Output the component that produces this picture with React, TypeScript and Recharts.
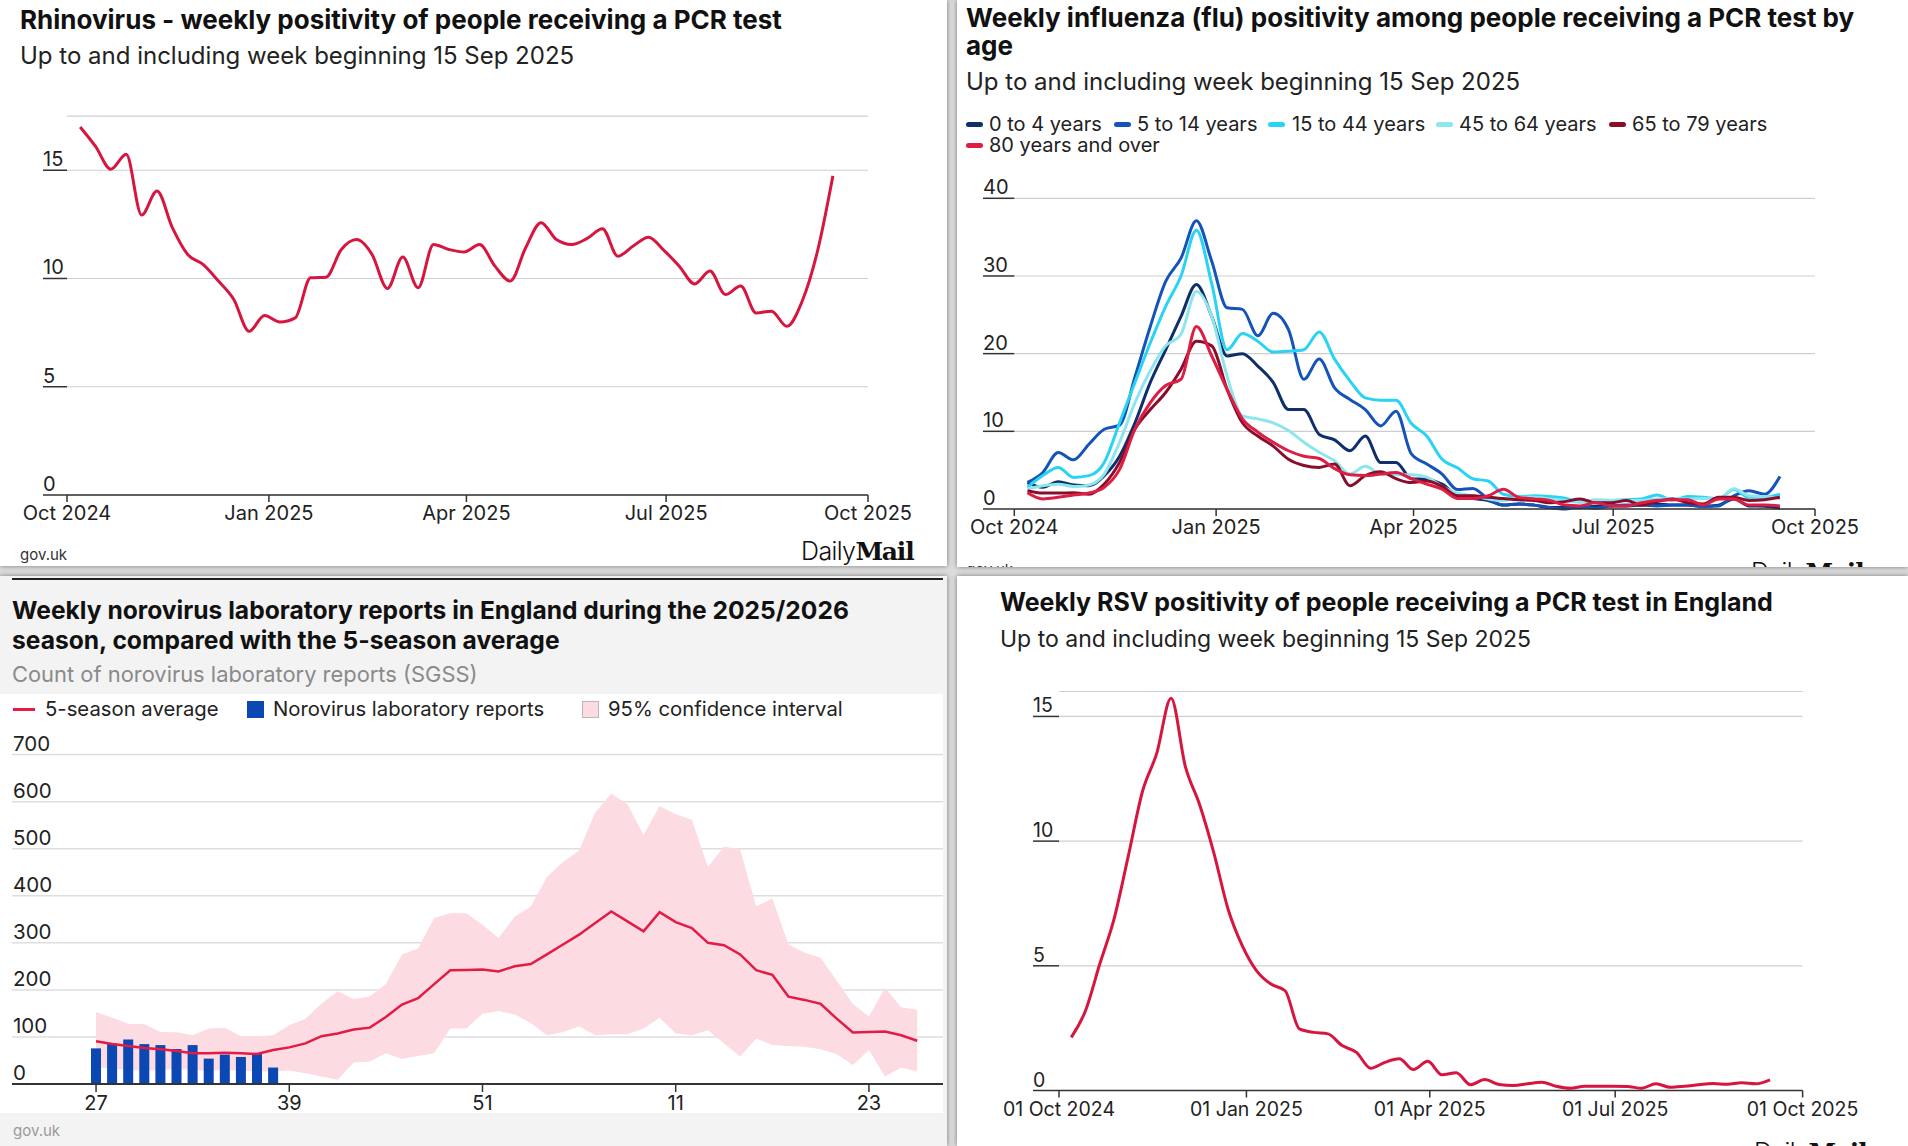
import React from 'react';
import { LineChart, Line, XAxis, YAxis, CartesianGrid, ComposedChart, Area, Bar } from 'recharts';

const FONT = 'Inter, "Noto Sans", sans-serif';

// ---------- categories ----------
const ORIGIN = Date.UTC(2024, 9, 1);
const FIRST_WEEK = Date.UTC(2024, 9, 7);
const DAY = 86400000;
const N_WEEKS = 50;
const WEEK_DAYS: number[] = Array.from({ length: N_WEEKS }, (_, k) => (FIRST_WEEK - ORIGIN) / DAY + 7 * k);

const MONTH_TICK_DATES = ['2024-10-01', '2025-01-01', '2025-04-01', '2025-07-01', '2025-10-01'];
const MONTH_TICK_DAYS = MONTH_TICK_DATES.map((d) => (Date.parse(d + 'T00:00:00Z') - ORIGIN) / DAY);
const MONTH_LABELS = ['Oct 2024', 'Jan 2025', 'Apr 2025', 'Jul 2025', 'Oct 2025'];
const RSV_LABELS = ['01 Oct 2024', '01 Jan 2025', '01 Apr 2025', '01 Jul 2025', '01 Oct 2025'];

// ---------- series ----------
const RHINO = [17.0, 16.1, 15.05, 15.74, 12.93, 14.04, 12.35, 11.11, 10.65, 9.88, 9.03, 7.56, 8.29, 7.99, 8.18, 10.03, 10.06, 11.34, 11.8, 11.11, 9.54, 10.99, 9.57, 11.57, 11.34, 11.22, 11.57, 10.57, 9.88, 11.42, 12.58, 11.8, 11.57, 11.85, 12.3, 11.03, 11.5, 11.91, 11.3, 10.57, 9.75, 10.34, 9.26, 9.65, 8.41, 8.49, 7.79, 8.95, 11.27, 14.74];

const RSV = [2.13, 3.2, 5.07, 6.87, 9.4, 12.0, 13.53, 15.73, 13.0, 11.47, 9.53, 7.27, 5.8, 4.8, 4.27, 4.0, 2.47, 2.33, 2.27, 1.8, 1.53, 0.89, 1.13, 1.27, 0.84, 1.17, 0.63, 0.71, 0.23, 0.44, 0.24, 0.2, 0.27, 0.33, 0.17, 0.09, 0.17, 0.17, 0.17, 0.16, 0.09, 0.27, 0.13, 0.17, 0.23, 0.28, 0.25, 0.31, 0.27, 0.43];

const FLU_0_4 = [3.4, 2.8, 3.5, 3.1, 3.0, 4.3, 6.8, 11.1, 16.3, 20.5, 24.8, 28.9, 24.8, 19.7, 20.0, 18.4, 16.3, 12.8, 12.8, 9.6, 8.9, 7.5, 9.4, 6.0, 6.0, 3.9, 3.8, 3.2, 1.7, 1.35, 1.1, 0.5, 0.65, 0.5, 0.2, 0.2, 0.2, 0.35, 0.4, 0.4, 0.5, 0.65, 0.5, 0.5, 0.35, 0.5, 1.3, 0.4, 0.35, 0.1];
const FLU_5_14 = [3.42, 4.7, 7.27, 6.33, 8.34, 10.27, 10.8, 17.0, 23.5, 29.3, 32.3, 37.1, 31.9, 25.9, 25.7, 22.3, 25.2, 23.1, 16.7, 19.3, 15.6, 14.1, 12.8, 10.7, 12.6, 7.1, 5.8, 4.5, 2.5, 2.65, 1.3, 0.5, 0.65, 0.5, 0.2, 0.0, 0.3, 0.1, 0.4, 0.5, 0.5, 0.4, 0.5, 0.5, 0.35, 0.4, 1.7, 2.35, 1.9, 4.2];
const FLU_15_44 = [2.8, 4.3, 5.35, 4.07, 4.3, 6.0, 11.1, 16.3, 21.4, 26.1, 30.0, 35.9, 29.0, 20.5, 22.6, 21.6, 20.2, 20.3, 20.5, 22.8, 19.3, 16.5, 14.3, 14.0, 14.0, 11.0, 9.4, 6.4, 5.3, 3.9, 3.6, 1.9, 1.6, 1.7, 1.6, 1.4, 0.9, 1.1, 1.1, 1.2, 1.3, 1.8, 1.15, 1.6, 1.5, 1.3, 2.5, 1.5, 1.5, 1.9];
const FLU_45_64 = [2.6, 3.0, 3.2, 2.9, 3.1, 4.5, 8.6, 13.7, 17.8, 21.0, 22.5, 28.0, 24.8, 17.1, 12.0, 11.6, 11.1, 10.1, 8.6, 7.3, 6.2, 4.5, 5.5, 4.5, 4.4, 4.4, 4.1, 2.9, 2.05, 1.7, 1.3, 1.1, 1.5, 1.5, 1.3, 1.1, 0.85, 1.2, 1.1, 1.1, 1.1, 1.3, 1.35, 1.3, 1.35, 1.3, 2.6, 1.7, 1.6, 1.35];
const FLU_65_79 = [2.35, 2.05, 2.05, 2.1, 1.9, 3.2, 6.0, 10.3, 12.8, 15.0, 18.0, 21.6, 21.0, 15.4, 11.1, 9.4, 8.1, 6.4, 5.6, 5.35, 5.8, 3.0, 4.3, 4.8, 3.9, 3.4, 3.6, 2.9, 1.7, 1.7, 1.5, 1.35, 1.2, 1.1, 0.8, 0.95, 1.3, 0.8, 0.8, 1.1, 0.5, 0.95, 1.3, 0.8, 0.65, 1.5, 1.5, 1.1, 1.2, 1.5];
const FLU_80 = [2.1, 1.3, 1.5, 1.8, 2.05, 2.8, 5.1, 10.3, 13.7, 15.9, 16.7, 23.5, 19.7, 15.4, 11.6, 9.9, 8.6, 7.5, 6.8, 6.5, 5.2, 4.4, 4.3, 4.5, 4.7, 3.9, 3.2, 2.55, 1.35, 1.35, 1.7, 2.55, 1.5, 1.3, 1.1, 0.5, 0.4, 0.85, 0.4, 0.4, 0.8, 1.1, 1.2, 1.2, 0.5, 1.3, 1.3, 0.5, 0.5, 0.4];

const FLU_SERIES = [
  { key: 'a0_4', label: '0 to 4 years', values: FLU_0_4, color: '#0e2f6b' },
  { key: 'a5_14', label: '5 to 14 years', values: FLU_5_14, color: '#1453b8' },
  { key: 'a15_44', label: '15 to 44 years', values: FLU_15_44, color: '#29d3f3' },
  { key: 'a45_64', label: '45 to 64 years', values: FLU_45_64, color: '#8ce6ee' },
  { key: 'a65_79', label: '65 to 79 years', values: FLU_65_79, color: '#8a0d2b' },
  { key: 'a80', label: '80 years and over', values: FLU_80, color: '#dd1d43' },
];

const NORO_WEEKS = [27, 28, 29, 30, 31, 32, 33, 34, 35, 36, 37, 38, 39, 40, 41, 42, 43, 44, 45, 46, 47, 48, 49, 50, 51, 52, 1, 2, 3, 4, 5, 6, 7, 8, 9, 10, 11, 12, 13, 14, 15, 16, 17, 18, 19, 20, 21, 22, 23, 24, 25, 26];
const NORO_AVG = [91, 84.8, 80.6, 76.4, 73.6, 70, 65.2, 65.2, 66.6, 65.2, 63.8, 72.2, 77.8, 86.2, 101.6, 107.2, 115.6, 119.8, 142.3, 168.9, 182.2, 212.3, 241.8, 242.5, 243.2, 239, 250.2, 255, 275.4, 296.4, 317.4, 342, 366.5, 345.5, 324.5, 365, 344, 331.5, 300, 295, 275.4, 241.8, 232, 185.7, 178.7, 170.3, 138.8, 109.3, 110.7, 111.4, 103.7, 91.8];
const NORO_HI = [152.8, 140.9, 128.2, 126.8, 110.7, 110, 103.7, 117.7, 119.8, 101.6, 101.6, 103.7, 124.7, 138.8, 170.3, 196.9, 180.8, 185.7, 212.3, 275.4, 288, 352.5, 363, 363, 338.5, 310.4, 356, 377, 440, 471.6, 496, 576.7, 617.4, 594.3, 529, 590.7, 573.2, 561.3, 461, 504.6, 498.2, 377, 394.5, 296.4, 278.9, 268.4, 219.3, 170, 143.7, 204, 163, 157.7];
const NORO_LO = [35, 33, 30, 28, 30, 32, 30, 28, 30, 28, 27, 26.6, 28.7, 23, 16, 9, 45.5, 47.7, 65.2, 53.3, 59.6, 65.2, 117.7, 117.7, 149.3, 154.9, 147.9, 129.6, 103.7, 110.7, 122.6, 103.7, 105.8, 105.8, 117.7, 140.9, 107.2, 103.7, 114.2, 86.2, 58.2, 96.7, 82.7, 80.6, 79.2, 73.6, 63.8, 40.6, 72.2, 16.1, 35, 26.6];
const NORO_REPORTS = [75.7, 86, 94.6, 84.8, 82.7, 74.3, 82.7, 54, 62.4, 57.5, 65.2, 35];
const NORO_TICK_IDX = [0, 12, 24, 36, 48];

// ---------- tables ----------
const rhinoData = WEEK_DAYS.map((d, i) => ({ day: d, value: RHINO[i] }));
const rsvData = WEEK_DAYS.map((d, i) => ({ day: d, value: RSV[i] }));
const fluData = WEEK_DAYS.map((d, i) => {
  const row: any = { day: d };
  FLU_SERIES.forEach((s) => (row[s.key] = s.values[i]));
  return row;
});
const noroData = NORO_WEEKS.map((w, i) => ({
  idx: i,
  week: w,
  avg: NORO_AVG[i],
  ci: [NORO_LO[i], NORO_HI[i]],
  reports: i < NORO_REPORTS.length ? NORO_REPORTS[i] : undefined,
}));

// ---------- helpers ----------
const Txt = ({ x, cy, size, weight = 400, color = '#1a1a1a', children }: any) => (
  <div
    style={{
      position: 'absolute',
      left: x,
      top: cy - size * 0.6,
      fontSize: size,
      lineHeight: `${size * 1.2}px`,
      fontWeight: weight,
      color,
      fontFamily: FONT,
      whiteSpace: 'nowrap',
    }}
  >
    {children}
  </div>
);

const Logo = ({ x, cy }: any) => (
  <div style={{ position: 'absolute', left: x, top: cy - 16, height: 32, lineHeight: '32px', whiteSpace: 'nowrap', color: '#111' }}>
    <span style={{ fontFamily: FONT, fontWeight: 300, fontSize: 25, letterSpacing: -0.6 }}>Daily</span>
    <span style={{ fontFamily: '"DejaVu Serif", serif', fontWeight: 900, fontSize: 25, letterSpacing: -1.2 }}>Mail</span>
  </div>
);

const Clip = ({ left, top, width, height, children }: any) => (
  <div style={{ position: 'absolute', left, top, width, height, overflow: 'hidden' }}>
    <div style={{ position: 'absolute', left: -left, top: -top, width: 1908, height: 1146 }}>{children}</div>
  </div>
);

const makeYTick = (labelX: number, segEnd: number | null, size = 20) => (props: any) => {
  const { y, payload } = props;
  return (
    <g>
      {segEnd !== null && <line x1={labelX} x2={segEnd} y1={y} y2={y} stroke="#333" strokeWidth={1.5} />}
      <text x={labelX} y={y - 4} fontSize={size} fill="#222" fontFamily={FONT} textAnchor="start">
        {payload.value}
      </text>
    </g>
  );
};

const axisTick = { fontSize: 20, fill: '#222', fontFamily: FONT };
const rsvTick = { fontSize: 19.5, fill: '#222', fontFamily: FONT };

const Panel = ({ left, top, width, height, bg = '#fff' }: any) => (
  <div style={{ position: 'absolute', left, top, width, height, background: bg, boxShadow: '0 0 5px rgba(0,0,0,0.45)' }} />
);

export default function App() {
  return (
    <div style={{ position: 'absolute', left: 0, top: 0, width: 1908, height: 1146, background: '#dcdcdc', overflow: 'hidden' }}>
      <Panel left={0} top={0} width={947} height={566} />
      <Panel left={957} top={0} width={951} height={567} />
      <Panel left={0} top={576} width={947} height={570} bg="#f3f3f3" />
      <Panel left={957} top={576} width={951} height={570} />
      <div style={{ position: 'absolute', left: 0, top: 694, width: 943, height: 419, background: '#fff' }} />

      {/* ---------- Top-left: Rhinovirus ---------- */}
      <Txt x={20} cy={20} size={26} weight={700} color="#111">Rhinovirus - weekly positivity of people receiving a PCR test</Txt>
      <Txt x={20} cy={56.6} size={24} color="#222">Up to and including week beginning 15 Sep 2025</Txt>
      <div style={{ position: 'absolute', left: 0, top: 100 }}>
        <LineChart width={947} height={460} data={rhinoData} margin={{ top: 16.1, right: 79, bottom: 25, left: 43 }}>
          <CartesianGrid horizontal vertical={false} stroke="#cfcfcf" strokeWidth={1.2} />
          <XAxis
            type="number"
            dataKey="day"
            domain={[0, 365]}
            ticks={MONTH_TICK_DAYS}
            interval={0}
            tickFormatter={(v: number) => MONTH_LABELS[MONTH_TICK_DAYS.indexOf(v)]}
            tick={axisTick}
            tickLine={{ stroke: '#333', strokeWidth: 1.5 }}
            tickSize={7}
            tickMargin={4}
            axisLine={{ stroke: '#333', strokeWidth: 1.5 }}
            height={40}
          />
          <YAxis domain={[0, 17.5]} ticks={[0, 5, 10, 15]} interval={0} width={24} axisLine={false} tickLine={false} tick={makeYTick(43, 67)} />
          <Line type="monotone" dataKey="value" stroke="#d6163f" strokeWidth={3} dot={false} isAnimationActive={false} />
        </LineChart>
      </div>
      <Txt x={20} cy={555} size={15} color="#333">gov.uk</Txt>
      <Logo x={801} cy={551} />

      {/* ---------- Top-right: Flu ---------- */}
      <Txt x={966} cy={18} size={26} weight={700} color="#111">Weekly influenza (flu) positivity among people receiving a PCR test by</Txt>
      <Txt x={966} cy={45.6} size={26} weight={700} color="#111">age</Txt>
      <Txt x={966} cy={82} size={24} color="#222">Up to and including week beginning 15 Sep 2025</Txt>
      {[
        { sx: 966, tx: 989, cy: 124 },
        { sx: 1114, tx: 1137, cy: 124 },
        { sx: 1268, tx: 1292, cy: 124 },
        { sx: 1436, tx: 1459, cy: 124 },
        { sx: 1609, tx: 1632, cy: 124 },
        { sx: 966, tx: 989, cy: 145 },
      ].map((p, i) => (
        <React.Fragment key={i}>
          <div style={{ position: 'absolute', left: p.sx, top: p.cy - 2.5, width: 17, height: 5, borderRadius: 3, background: FLU_SERIES[i].color }} />
          <Txt x={p.tx} cy={p.cy} size={20} color="#222">{FLU_SERIES[i].label}</Txt>
        </React.Fragment>
      ))}
      <div style={{ position: 'absolute', left: 954, top: 170 }}>
        <LineChart width={954} height={390} data={fluData} margin={{ top: 28.3, right: 93, bottom: 11, left: 36.3 }}>
          <CartesianGrid horizontal vertical={false} stroke="#cfcfcf" strokeWidth={1.2} />
          <XAxis
            type="number"
            dataKey="day"
            domain={[0, 365]}
            ticks={MONTH_TICK_DAYS}
            interval={0}
            tickFormatter={(v: number) => MONTH_LABELS[MONTH_TICK_DAYS.indexOf(v)]}
            tick={axisTick}
            tickLine={{ stroke: '#333', strokeWidth: 1.5 }}
            tickSize={7}
            tickMargin={4}
            axisLine={{ stroke: '#333', strokeWidth: 1.5 }}
            height={40}
          />
          <YAxis domain={[0, 40]} ticks={[0, 10, 20, 30, 40]} interval={0} width={24} axisLine={false} tickLine={false} tick={makeYTick(29, 60.3)} />
          {FLU_SERIES.map((s) => (
            <Line key={s.key} type="monotone" dataKey={s.key} stroke={s.color} strokeWidth={3} dot={false} isAnimationActive={false} />
          ))}
        </LineChart>
      </div>
      <Clip left={957} top={0} width={951} height={567}>
        <Txt x={966} cy={570} size={15} color="#333">gov.uk</Txt>
        <Logo x={1751} cy={572} />
      </Clip>

      {/* ---------- Bottom-left: Norovirus ---------- */}
      <div style={{ position: 'absolute', left: 12, top: 578, width: 931, height: 2, background: '#222' }} />
      <Txt x={12} cy={611} size={24.6} weight={700} color="#111">Weekly norovirus laboratory reports in England during the 2025/2026</Txt>
      <Txt x={12} cy={640.5} size={24.6} weight={700} color="#111">season, compared with the 5-season average</Txt>
      <Txt x={12} cy={674} size={21.9} color="#8a8a8a">Count of norovirus laboratory reports (SGSS)</Txt>
      <div style={{ position: 'absolute', left: 13, top: 708, width: 22, height: 3, background: '#e31b45' }} />
      <Txt x={45} cy={709} size={20.3} color="#222">5-season average</Txt>
      <div style={{ position: 'absolute', left: 247, top: 701, width: 17, height: 17, background: '#0b48b4' }} />
      <Txt x={273} cy={709} size={20.3} color="#222">Norovirus laboratory reports</Txt>
      <div style={{ position: 'absolute', left: 582, top: 701, width: 15, height: 15, background: '#fcdbe2', border: '1px solid #b9b9b9' }} />
      <Txt x={608} cy={709} size={20.3} color="#222">95% confidence interval</Txt>
      <div style={{ position: 'absolute', left: 0, top: 730 }}>
        <ComposedChart width={947} height={400} data={noroData} margin={{ top: 24.6, right: 4, bottom: 6, left: 2 }}>
          <CartesianGrid horizontal vertical={false} stroke="#dedede" strokeWidth={1.5} />
          <XAxis
            type="number"
            dataKey="idx"
            domain={[-5.22, 52.6]}
            ticks={NORO_TICK_IDX}
            interval={0}
            tickFormatter={(v: number) => String(NORO_WEEKS[v])}
            tick={axisTick}
            tickLine={{ stroke: '#333', strokeWidth: 1.5 }}
            tickSize={8}
            tickMargin={4}
            axisLine={{ stroke: '#333', strokeWidth: 2 }}
            height={40}
          />
          <YAxis domain={[0, 700]} ticks={[0, 100, 200, 300, 400, 500, 600, 700]} interval={0} width={10} axisLine={false} tickLine={false} tick={makeYTick(13, null, 20.5)} />
          <Area type="linear" dataKey="ci" fill="#fcdbe2" fillOpacity={1} stroke="none" isAnimationActive={false} />
          <Bar dataKey="reports" fill="#0b48b4" barSize={10} isAnimationActive={false} />
          <Line type="linear" dataKey="avg" stroke="#e31b45" strokeWidth={2.5} dot={false} isAnimationActive={false} />
        </ComposedChart>
      </div>
      <Txt x={13} cy={1131} size={15} color="#9a9a9a">gov.uk</Txt>

      {/* ---------- Bottom-right: RSV ---------- */}
      <Txt x={1000} cy={602} size={25} weight={700} color="#111">Weekly RSV positivity of people receiving a PCR test in England</Txt>
      <Txt x={1000} cy={640} size={23} color="#222">Up to and including week beginning 15 Sep 2025</Txt>
      <div style={{ position: 'absolute', left: 954, top: 680 }}>
        <LineChart width={954} height={460} data={rsvData} margin={{ top: 11.5, right: 105.4, bottom: 9.5, left: 81 }}>
          <CartesianGrid horizontal vertical={false} stroke="#cfcfcf" strokeWidth={1.2} />
          <XAxis
            type="number"
            dataKey="day"
            domain={[0, 365]}
            ticks={MONTH_TICK_DAYS}
            interval={0}
            tickFormatter={(v: number) => RSV_LABELS[MONTH_TICK_DAYS.indexOf(v)]}
            tick={rsvTick}
            tickLine={{ stroke: '#333', strokeWidth: 1.5 }}
            tickSize={7}
            tickMargin={5}
            axisLine={{ stroke: '#333', strokeWidth: 1.5 }}
            height={40}
          />
          <YAxis domain={[0, 16]} ticks={[0, 5, 10, 15]} interval={0} width={24} axisLine={false} tickLine={false} tick={makeYTick(1033 - 954, 105, 19.5)} />
          <Line type="monotone" dataKey="value" stroke="#d6163f" strokeWidth={3} dot={false} isAnimationActive={false} />
        </LineChart>
      </div>
      <Clip left={957} top={576} width={951} height={570}>
        <Logo x={1754} cy={1152} />
      </Clip>
    </div>
  );
}
